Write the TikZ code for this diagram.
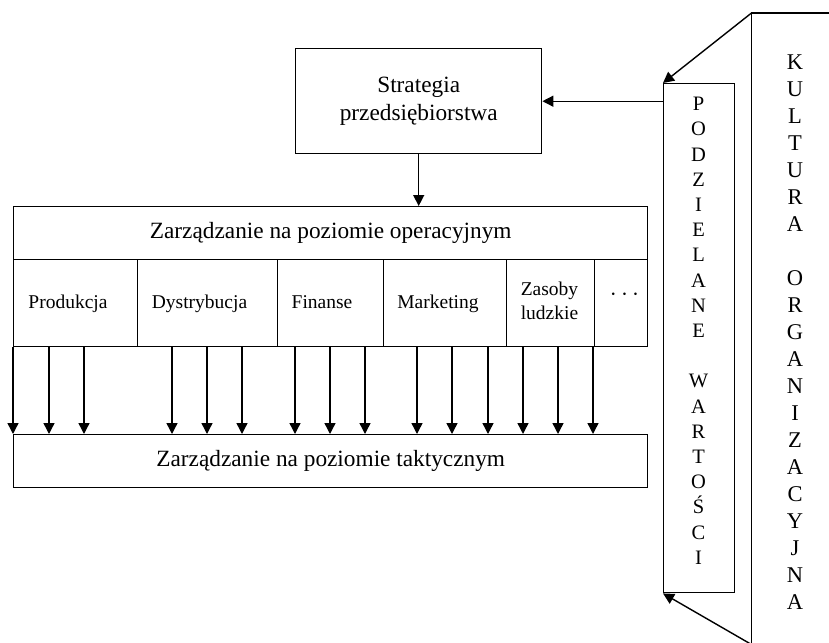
\documentclass[tikz,border=0pt]{standalone}
\usepackage{fontspec}
\setmainfont{Liberation Serif}
\usetikzlibrary{arrows.meta}
\begin{document}
\begin{tikzpicture}[x=1pt,y=-1pt,
  line width=1.4pt,
  box/.style={draw, rectangle, inner sep=0pt, anchor=north west},
  arr/.style={-{Triangle[length=11pt,width=11pt]}},
  big/.style={font=\fontsize{23.3}{28}\selectfont},
  small/.style={font=\fontsize{19.5}{23.5}\selectfont},
  vlet/.style={font=\fontsize{20.5}{24}\selectfont, anchor=base, inner sep=0pt},
  klet/.style={font=\fontsize{22.5}{26}\selectfont, anchor=base, inner sep=0pt}
]
\clip (0,0) rectangle (829,642);

% strategy box
\node[box, minimum width=246pt, minimum height=105pt, align=center, big] (strat) at (295,48)
  {Strategia\\przedsiębiorstwa};

% operational level with its functional areas
\node[box, minimum width=634pt, minimum height=53pt, big] (optitle) at (13,206)
  {Zarządzanie na poziomie operacyjnym};
\node[box, minimum width=124pt, minimum height=87pt] (prod) at (13,259) {};
\node[box, minimum width=140pt, minimum height=87pt] (dys)  at (137,259) {};
\node[box, minimum width=106pt, minimum height=87pt] (fin)  at (277,259) {};
\node[box, minimum width=123pt, minimum height=87pt] (mkt)  at (383,259) {};
\node[box, minimum width=88pt,  minimum height=87pt] (hr)   at (506,259) {};
\node[box, minimum width=53pt,  minimum height=87pt] (more) at (594,259) {};

\node[small, anchor=base] (lprod) at (68,308)  {Produkcja};
\node[small, anchor=base] (ldys)  at (199.5,308) {Dystrybucja};
\node[small, anchor=base] (lfin)  at (322,308) {Finanse};
\node[small, anchor=base] (lmkt)  at (438,308) {Marketing};
\node[small, align=center] (lhr)  at (549.5,301) {Zasoby\\ludzkie};
\node[font=\fontsize{25}{30}\selectfont] (lmore) at (624.5,295) {$\cdots$};

% tactical level
\node[box, minimum width=634pt, minimum height=53pt, big] (tac) at (13,434)
  {Zarządzanie na poziomie taktycznym};

% shared values column
\node[box, minimum width=71pt, minimum height=509pt] (pw) at (663,83) {};
\foreach \ch/\i in {P/0,O/1,D/2,Z/3,I/4,E/5,L/6,A/7,N/8,E/9,W/11,A/12,R/13,T/14,O/15,Ś/16,C/17,I/18}
  \node[vlet] at (698.5,{110.7+25.2*\i}) {\ch};

% organisational culture frame
\coordinate (kr) at (829,13);
\coordinate (kt) at (751.5,13);
\coordinate (kb) at (751.5,650);
\coordinate (ks) at (751.5,644.5);
\draw (kr) -- (kt) -- (kb);
\foreach \ch/\i in {K/0,U/1,L/2,T/3,U/4,R/5,A/6,O/8,R/9,G/10,A/11,N/12,I/13,Z/14,A/15,C/16,Y/17,J/18,N/19,A/20}
  \node[klet] at (795,{69.5+27*\i}) {\ch};

% connectors
\draw[arr] (kt) -- (pw.north west);
\draw[arr] (ks) -- (pw.south west);
\draw[arr] (pw.west |- strat.east) -- (strat.east);
\draw[arr] (strat.south) -- (strat.south |- optitle.north);
\foreach \x in {13,49,84,172,207,242,295,330,365,417,452,488,523,558,593} {
  \coordinate (c) at (\x,0);
  \draw[arr] (prod.south -| c) -- (tac.north -| c);
}
\end{tikzpicture}
\end{document}
